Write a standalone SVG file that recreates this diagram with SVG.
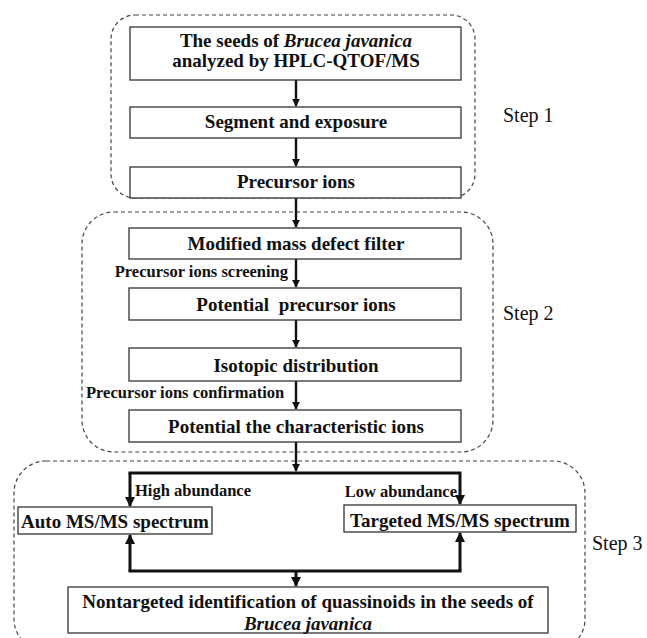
<svg xmlns="http://www.w3.org/2000/svg" width="647" height="638" viewBox="0 0 647 638" font-family="'Liberation Serif', 'Times New Roman', Times, serif">
<defs>
<style>
.box{fill:#fff;stroke:#333;stroke-width:1.3}
.grp{fill:none;stroke:#444;stroke-width:1.2;stroke-dasharray:4 3}
.t{font-family:'Liberation Serif', 'Times New Roman', Times, serif;font-weight:bold;font-size:19px;fill:#111;text-anchor:middle}
.lb{font-family:'Liberation Serif', 'Times New Roman', Times, serif;font-weight:bold;font-size:16.5px;fill:#111}
.st{font-family:'Liberation Serif', 'Times New Roman', Times, serif;font-size:20px;fill:#111}
.ln{fill:none;stroke:#111;stroke-width:2.4}
.ln3{fill:none;stroke:#111;stroke-width:3}
</style>
<marker id="ah" viewBox="0 0 10 10" refX="9" refY="5" markerWidth="3.4" markerHeight="3.4" orient="auto" markerUnits="strokeWidth">
<path d="M0,0 L10,5 L0,10 z" fill="#111"/>
</marker>
</defs>

<g id="groups">
<rect id="step1-frame" class="grp" x="111" y="15" width="364" height="183" rx="24" ry="24"/>
<rect id="step2-frame" class="grp" x="82" y="212" width="411" height="240" rx="32" ry="32"/>
<rect id="step3-frame" class="grp" x="14" y="461" width="571" height="190" rx="32" ry="32"/>
</g>

<g id="connectors">
<line class="ln" x1="296" y1="80" x2="296" y2="106" marker-end="url(#ah)"/>
<line class="ln" x1="296" y1="138" x2="296" y2="166" marker-end="url(#ah)"/>
<line class="ln" x1="296" y1="198" x2="296" y2="227" marker-end="url(#ah)"/>
<line class="ln" x1="296" y1="259" x2="296" y2="287" marker-end="url(#ah)"/>
<line class="ln" x1="296" y1="320" x2="296" y2="347" marker-end="url(#ah)"/>
<line class="ln" x1="296" y1="381" x2="296" y2="409" marker-end="url(#ah)"/>
<line class="ln" x1="296" y1="442" x2="296" y2="471" marker-end="url(#ah)"/>
<polyline class="ln3" points="128.5,473 460,473 460,504" marker-end="url(#ah)"/>
<line class="ln3" x1="130" y1="473" x2="130" y2="506" marker-end="url(#ah)"/>
<line class="ln3" x1="130" y1="571" x2="130" y2="535" marker-end="url(#ah)"/>
<line class="ln3" x1="460" y1="571" x2="460" y2="533" marker-end="url(#ah)"/>
<line class="ln3" x1="128.5" y1="571" x2="461.5" y2="571"/>
<line class="ln3" x1="296" y1="571" x2="296" y2="586" marker-end="url(#ah)"/>
<text class="lb" x="288" y="277" text-anchor="end">Precursor ions screening</text>
<text class="lb" x="86" y="398">Precursor ions confirmation</text>
<text class="lb" x="135" y="496">High abundance</text>
<text class="lb" x="457" y="497" text-anchor="end">Low abundance</text>
</g>

<g id="n1">
<rect class="box" x="130" y="27" width="331" height="53"/>
<text class="t" x="296" y="47">The seeds of <tspan font-style="italic">Brucea javanica</tspan></text>
<text class="t" x="296" y="67">analyzed by HPLC-QTOF/MS</text>
</g>
<g id="n2">
<rect class="box" x="130" y="107" width="331" height="31"/>
<text class="t" x="296" y="128">Segment and exposure</text>
</g>
<g id="n3">
<rect class="box" x="130" y="167" width="331" height="31"/>
<text class="t" x="296" y="188">Precursor ions</text>
</g>
<g id="n4">
<rect class="box" x="129" y="228" width="332" height="31"/>
<text class="t" x="296" y="250">Modified mass defect filter</text>
</g>
<g id="n5">
<rect class="box" x="129" y="288" width="332" height="32"/>
<text class="t" x="296" y="311" xml:space="preserve">Potential  precursor ions</text>
</g>
<g id="n6">
<rect class="box" x="129" y="348" width="332" height="33"/>
<text class="t" x="296" y="372">Isotopic distribution</text>
</g>
<g id="n7">
<rect class="box" x="129" y="410" width="332" height="32"/>
<text class="t" x="296" y="433">Potential the characteristic ions</text>
</g>
<g id="n8">
<rect class="box" x="18" y="507" width="194" height="27"/>
<text class="t" x="115" y="528">Auto MS/MS spectrum</text>
</g>
<g id="n9">
<rect class="box" x="344" y="505" width="232" height="27"/>
<text class="t" x="460" y="527">Targeted MS/MS spectrum</text>
</g>
<g id="n10">
<rect class="box" x="68" y="587" width="480" height="46"/>
<text class="t" x="308" y="608">Nontargeted identification of quassinoids in the seeds of</text>
<text class="t" x="308" y="630" font-style="italic">Brucea javanica</text>
</g>

<g id="labels">
<text class="st" x="503" y="122">Step 1</text>
<text class="st" x="503" y="320">Step 2</text>
<text class="st" x="592" y="550">Step 3</text>
</g>
</svg>
